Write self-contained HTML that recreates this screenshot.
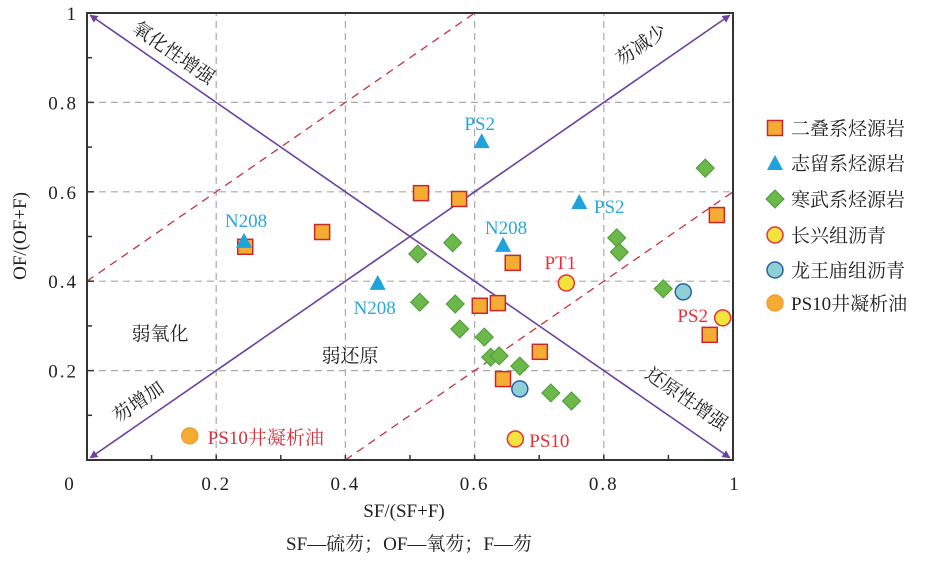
<!DOCTYPE html>
<html><head><meta charset="utf-8"><style>
body{margin:0;background:#fff;}
svg{display:block;font-family:"Liberation Serif","Noto Serif CJK SC",serif;}
</style></head><body>
<svg id="chart" width="928" height="564" viewBox="0 0 928 564" xmlns="http://www.w3.org/2000/svg">
<defs>
<marker id="arr" viewBox="0 0 10 10" refX="9" refY="5" markerWidth="5" markerHeight="5" orient="auto"><path d="M0,0L10,5L0,10z" fill="#6a3fa0"/></marker>
</defs>
<g id="grid"></g>
<g id="guides"></g>
<g id="marks"></g>
<g id="axes"></g>
<g font-size="19" fill="#222">
<text transform="translate(170,58) rotate(34.7)" text-anchor="middle">氧化性增强</text>
<text transform="translate(645,50) rotate(-34.7)" text-anchor="middle">芴减少</text>
<text transform="translate(142,407) rotate(-34.7)" text-anchor="middle">芴增加</text>
<text transform="translate(683,404) rotate(34.7)" text-anchor="middle">还原性增强</text>
<text x="160" y="340" text-anchor="middle">弱氧化</text>
<text x="350" y="362" text-anchor="middle">弱还原</text>
</g>
<text x="404" y="517" font-size="19" text-anchor="middle" fill="#222">SF/(SF+F)</text>
<text x="409" y="550" font-size="19" text-anchor="middle" fill="#222">SF—硫芴；OF—氧芴；F—芴</text>
<text transform="translate(26,236) rotate(-90)" font-size="19" text-anchor="middle" fill="#222">OF/(OF+F)</text>
<g id="legend"></g>
</svg>
<script>
const permX=[0.245,0.364,0.517,0.576,0.659,0.608,0.636,0.701,0.644,0.975,0.964];
const permY=[0.477,0.510,0.597,0.584,0.441,0.345,0.351,0.242,0.181,0.548,0.280];
const silX=[0.243,0.450,0.611,0.644,0.762];
const silY=[0.488,0.394,0.711,0.479,0.575];
const silLabels=["N208","N208","PS2","N208","PS2"];
const camX=[0.512,0.515,0.566,0.570,0.577,0.615,0.625,0.638,0.670,0.718,0.750,0.820,0.824,0.892,0.957];
const camY=[0.461,0.353,0.486,0.349,0.293,0.275,0.230,0.233,0.210,0.150,0.132,0.497,0.465,0.383,0.653];
const cxX=[0.742,0.984,0.663];
const cxY=[0.396,0.318,0.047];
const cxLabels=["PT1","PS2","PS10"];
const lwX=[0.923,0.670];
const lwY=[0.376,0.159];
const psX=[0.159];
const psY=[0.054];
const psLabels=["PS10井凝析油"];
const xTicks=[0,0.2,0.4,0.6,0.8,1];
const xTickLabels=["0","0.2","0.4","0.6","0.8","1"];
const yTicks=[0.2,0.4,0.6,0.8,1];
const yTickLabels=["0.2","0.4","0.6","0.8","1"];
const legendLabels=["二叠系烃源岩","志留系烃源岩","寒武系烃源岩","长兴组沥青","龙王庙组沥青","PS10井凝析油"];

const X0=87,X1=733,Y0=460,Y1=13;
const sx=v=>X0+(X1-X0)*v, sy=v=>Y0-(Y0-Y1)*v;
const NS="http://www.w3.org/2000/svg";
function mk(tag,attrs,parent){const e=document.createElementNS(NS,tag);for(const k in attrs)e.setAttribute(k,attrs[k]);parent.appendChild(e);return e;}
const grid=document.getElementById('grid'),guides=document.getElementById('guides'),marks=document.getElementById('marks'),axes=document.getElementById('axes'),legend=document.getElementById('legend');

[0.2,0.4,0.6,0.8].forEach(v=>{
 let l=mk('line',{x1:sx(v),x2:sx(v),y1:Y0,y2:Y1,stroke:'#aaa','stroke-dasharray':'7,5','stroke-width':1.2},grid);
 
 
 let m=mk('line',{x1:X0,x2:X1,y1:sy(v),y2:sy(v),stroke:'#aaa','stroke-dasharray':'7,5','stroke-width':1.2},grid);
 
 
});
function seg(a,b,c,d,attrs,name){const l=mk('line',Object.assign({x1:sx(a),y1:sy(b),x2:sx(c),y2:sy(d)},attrs),guides);return l;}
seg(0.4,0,1,0.6,{stroke:'#c8323c','stroke-dasharray':'8,6','stroke-width':1.3},'lower-dashed-boundary');
seg(0,0.4,0.6,1,{stroke:'#c8323c','stroke-dasharray':'8,6','stroke-width':1.3},'upper-dashed-boundary');
const pa={stroke:'#6a3fa0','stroke-width':1.6,'marker-end':'url(#arr)'};
seg(0.5,0.5,0.005,0.005,pa,'fluorene-increase-arrow');
seg(0.5,0.5,0.995,0.995,pa,'fluorene-decrease-arrow');
seg(0.5,0.5,0.005,0.995,pa,'oxidation-arrow');
seg(0.5,0.5,0.995,0.005,pa,'reduction-arrow');

function square(x,y,p){return mk('rect',{x:x-7.5,y:y-7.5,width:15,height:15,fill:'#f5ac33',stroke:'#c8282d','stroke-width':1.5},p);}
function tri(x,y,p){return mk('path',{d:`M${x},${y-9}L${x+8},${y+6}L${x-8},${y+6}Z`,fill:'#1ea3dc'},p);}
function dia(x,y,p){return mk('path',{d:`M${x},${y-9}L${x+9},${y}L${x},${y+9}L${x-9},${y}Z`,fill:'#6cb84a',stroke:'#4a9a38','stroke-width':1},p);}
function circ(x,y,p,f,s){return mk('circle',{cx:x,cy:y,r:8,fill:f,stroke:s,'stroke-width':1.5},p);}
function lbl(x,y,t,c,anchor){const e=mk('text',{x:x,y:y,fill:c,'font-size':19,'text-anchor':anchor||'middle'},marks);e.textContent=t;return e;}

camX.forEach((v,i)=>{
 const e=dia(sx(v),sy(camY[i]),marks);
 
 
});
permX.forEach((v,i)=>{const e=square(sx(v),sy(permY[i]),marks);});
const silOff=[[2,-15],[-3,30],[-2,-12],[3,-12],[30,10]];
silX.forEach((v,i)=>{const x=sx(v),y=sy(silY[i]);const e=tri(x,y,marks);lbl(x+silOff[i][0],y+silOff[i][1],silLabels[i],'#29a6df');});
const cxOff=[[-6,-14],[-30,4],[14,8]];
cxX.forEach((v,i)=>{const x=sx(v),y=sy(cxY[i]);const e=circ(x,y,marks,'#f2e43c','#e8303a');lbl(x+cxOff[i][0],y+cxOff[i][1],cxLabels[i],'#e8303a',i==2?'start':'middle');});
lwX.forEach((v,i)=>{const e=circ(sx(v),sy(lwY[i]),marks,'#8fd0d6','#2a5fa8');});
psX.forEach((v,i)=>{const x=sx(v),y=sy(psY[i]);const e=circ(x,y,marks,'#f5ac33','#f0a030');lbl(x+18,y+8,psLabels[i],'#d0303a','start');});

const fr=mk('rect',{x:X0,y:Y1,width:X1-X0,height:Y0-Y1,fill:'none',stroke:'#333','stroke-width':2},axes);

xTicks.forEach((v,i)=>{
 const x=sx(v);
 const t=mk('line',{x1:x,x2:x,y1:Y0,y2:Y0-5,stroke:'#333','stroke-width':1.5},axes);
 
 const tx=mk('text',{x:v==0?70:(v==1?735:x),y:490,'font-size':19,'text-anchor':'middle',fill:'#222','letter-spacing':'2'},axes);
 tx.textContent=xTickLabels[i];
});
[0.1,0.3,0.5,0.7,0.9].forEach(v=>{const t=mk('line',{x1:sx(v),x2:sx(v),y1:Y0,y2:Y0-5,stroke:'#333','stroke-width':1.5},axes);
 const u=mk('line',{x1:X0,x2:X0+5,y1:sy(v),y2:sy(v),stroke:'#333','stroke-width':1.5},axes);});
yTicks.forEach((v,i)=>{
 const y=sy(v);
 const t=mk('line',{x1:X0,x2:X0+7,y1:y,y2:y,stroke:'#333','stroke-width':1.5},axes);
 
 const tx=mk('text',{x:78,y:y+7,'font-size':19,'text-anchor':'end',fill:'#222','letter-spacing':'2'},axes);
 tx.textContent=yTickLabels[i];
});
const ly=[128,163,199,235,270,303];
legendLabels.forEach((t,i)=>{
 const x=775,y=ly[i];
 const g=mk('g',{},legend);
 
 if(i==0)square(x,y,g);else if(i==1)tri(x,y+1,g);else if(i==2)dia(x,y,g);else if(i==3)circ(x,y,g,'#f2e43c','#e8303a');else if(i==4)circ(x,y,g,'#8fd0d6','#2a5fa8');else circ(x,y,g,'#f5ac33','#f0a030');
 const tx=mk('text',{x:791,y:y+7,'font-size':19,fill:'#222'},g);tx.textContent=t;
});
</script>
</body></html>
